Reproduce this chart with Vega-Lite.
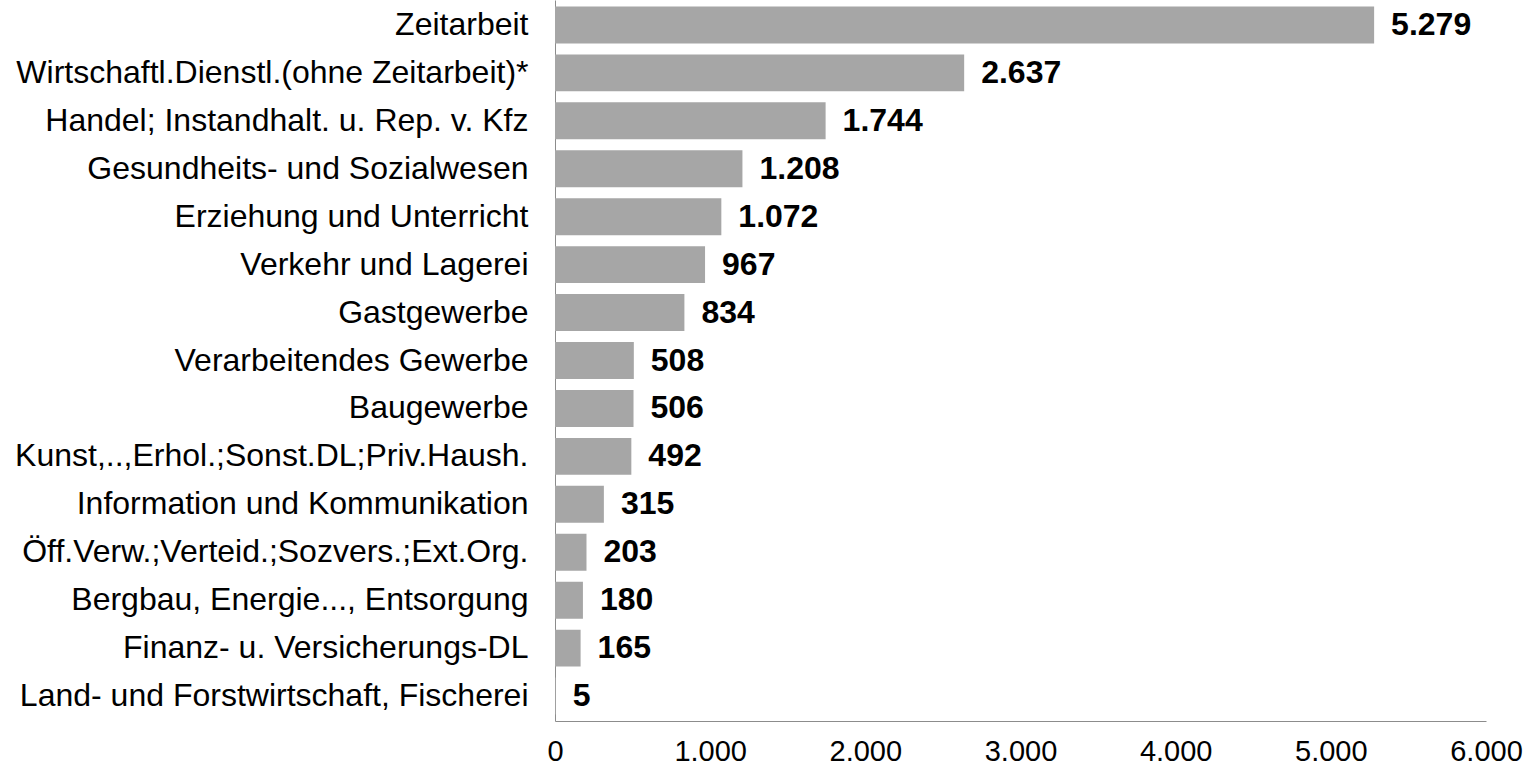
{
  "$schema": "https://vega.github.io/schema/vega-lite/v6.json",
  "autosize": {"type": "none"},
  "padding": {"left": 555, "top": 0, "right": 53, "bottom": 48},
  "width": 931,
  "height": 721,
  "background": "white",
  "config": {
    "view": {"stroke": null},
    "font": "Liberation Sans",
    "locale": {"number": {"decimal": ",", "thousands": ".", "grouping": [3], "currency": ["", " €"]}}
  },
  "data": {"values": [
    {"branche": "Zeitarbeit", "wert": 5279},
    {"branche": "Wirtschaftl.Dienstl.(ohne Zeitarbeit)*", "wert": 2637},
    {"branche": "Handel; Instandhalt. u. Rep. v. Kfz", "wert": 1744},
    {"branche": "Gesundheits- und Sozialwesen", "wert": 1208},
    {"branche": "Erziehung und Unterricht", "wert": 1072},
    {"branche": "Verkehr und Lagerei", "wert": 967},
    {"branche": "Gastgewerbe", "wert": 834},
    {"branche": "Verarbeitendes Gewerbe", "wert": 508},
    {"branche": "Baugewerbe", "wert": 506},
    {"branche": "Kunst,..,Erhol.;Sonst.DL;Priv.Haush.", "wert": 492},
    {"branche": "Information und Kommunikation", "wert": 315},
    {"branche": "Öff.Verw.;Verteid.;Sozvers.;Ext.Org.", "wert": 203},
    {"branche": "Bergbau, Energie..., Entsorgung", "wert": 180},
    {"branche": "Finanz- u. Versicherungs-DL", "wert": 165},
    {"branche": "Land- und Forstwirtschaft, Fischerei", "wert": 5}
  ]},
  "encoding": {
    "y": {
      "field": "branche", "type": "nominal", "sort": null,
      "scale": {"paddingInner": 0.23, "paddingOuter": 0.135},
      "axis": {
        "title": null, "ticks": false, "labelPadding": 27,
        "labelFontSize": 32, "labelColor": "#000000", "labelFont": "Liberation Sans",
        "labelLimit": 600, "domainColor": "#8c8c8c", "domainWidth": 1
      }
    },
    "x": {
      "field": "wert", "type": "quantitative",
      "scale": {"domain": [0, 6000], "nice": false},
      "axis": {
        "title": null, "ticks": false, "grid": false, "values": [0, 1000, 2000, 3000, 4000, 5000, 6000],
        "format": ",d",
        "labelFontSize": 29, "labelColor": "#000000", "labelFont": "Liberation Sans",
        "labelPadding": 16, "domainColor": "#8c8c8c", "domainWidth": 1, "labelFlush": false
      }
    }
  },
  "layer": [
    {"mark": {"type": "bar", "color": "#a6a6a6"}},
    {
      "mark": {"type": "text", "align": "left", "baseline": "middle", "dx": 17, "fontSize": 32, "fontWeight": "bold", "font": "Liberation Sans", "color": "#000000"},
      "encoding": {"text": {"field": "wert", "type": "quantitative", "format": ",d"}}
    }
  ]
}
